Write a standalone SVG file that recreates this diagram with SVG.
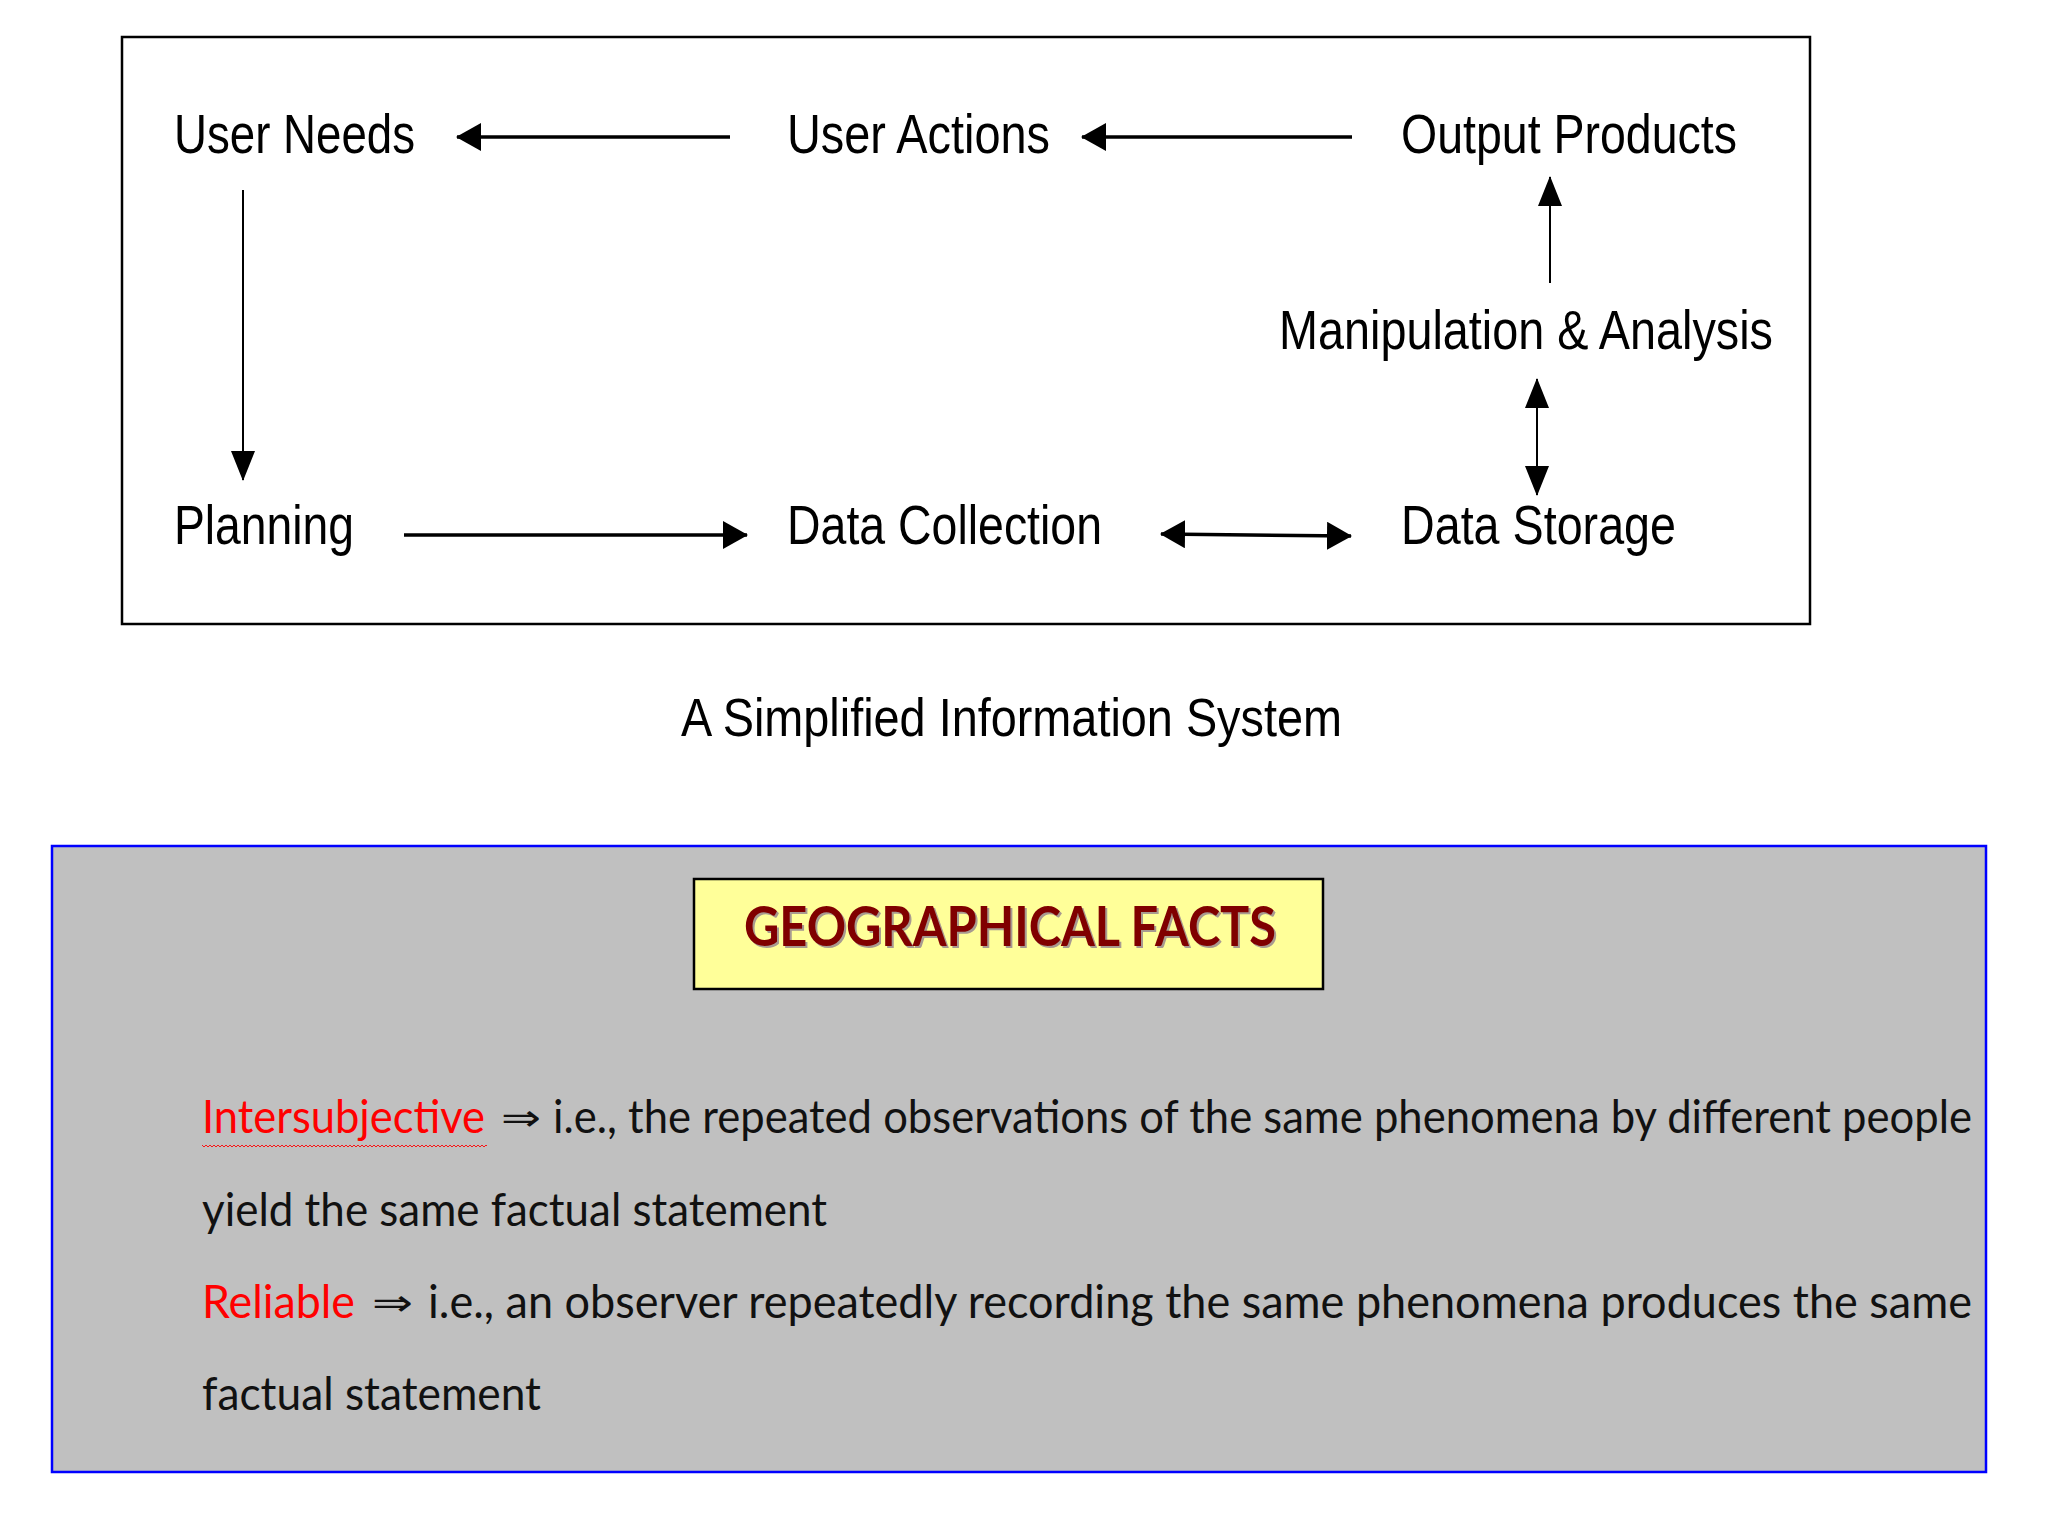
<svg xmlns="http://www.w3.org/2000/svg" width="2048" height="1536" viewBox="0 0 2048 1536">
<style>
.lbl{font-family:"Liberation Sans Narrow","Liberation Sans",Arial,sans-serif;font-size:56px;fill:#000}
.cap{font-family:"Liberation Sans Narrow","Liberation Sans",Arial,sans-serif;font-size:54px;fill:#000}
.body{font-family:Lato,"Open Sans","DejaVu Sans",sans-serif;font-size:46px;fill:#111}
.red{fill:#ff0000}
.sym{font-family:"DejaVu Sans",sans-serif;font-size:36px;fill:#111}
.title{font-family:Lato,"Liberation Sans",sans-serif;font-weight:bold;font-size:56px}
.thick{stroke:#000;stroke-width:3.5;fill:none}
.thin{stroke:#000;stroke-width:2;fill:none}
</style>
<defs>
<marker id="ah" viewBox="0 0 25 28" refX="24" refY="14" markerWidth="25" markerHeight="28" markerUnits="userSpaceOnUse" orient="auto-start-reverse">
<path d="M0,0 L25,14 L0,28 Z" fill="#000"/>
</marker>
<marker id="av" viewBox="0 0 30 24" refX="29" refY="12" markerWidth="30" markerHeight="24" markerUnits="userSpaceOnUse" orient="auto-start-reverse">
<path d="M0,0 L30,12 L0,24 Z" fill="#000"/>
</marker>
<pattern id="wavy" x="0" y="0" width="4" height="4" patternUnits="userSpaceOnUse">
<path d="M0,3 L2,1 L4,3" stroke="#ff0000" stroke-width="0.9" fill="none"/>
</pattern>
</defs>
<rect width="2048" height="1536" fill="#ffffff"/>

<!-- top diagram frame -->
<rect x="122" y="37" width="1688" height="587" fill="#ffffff" stroke="#000" stroke-width="2.5"/>

<g id="user-needs"><text class="lbl" x="174" y="153" textLength="241" lengthAdjust="spacingAndGlyphs">User Needs</text></g>
<g id="user-actions"><text class="lbl" x="787" y="153" textLength="263" lengthAdjust="spacingAndGlyphs">User Actions</text></g>
<g id="output-products"><text class="lbl" x="1401" y="153" textLength="336" lengthAdjust="spacingAndGlyphs">Output Products</text></g>
<g id="manipulation-analysis"><text class="lbl" x="1279" y="349" textLength="494" lengthAdjust="spacingAndGlyphs">Manipulation &amp; Analysis</text></g>
<g id="planning"><text class="lbl" x="174" y="544" textLength="180" lengthAdjust="spacingAndGlyphs">Planning</text></g>
<g id="data-collection"><text class="lbl" x="787" y="544" textLength="315" lengthAdjust="spacingAndGlyphs">Data Collection</text></g>
<g id="data-storage"><text class="lbl" x="1401" y="544" textLength="275" lengthAdjust="spacingAndGlyphs">Data Storage</text></g>

<g id="connectors">
<line class="thick" x1="730" y1="137" x2="457" y2="137" marker-end="url(#ah)"/>
<line class="thick" x1="1352" y1="137" x2="1082" y2="137" marker-end="url(#ah)"/>
<line class="thin" x1="243" y1="190" x2="243" y2="480" marker-end="url(#av)"/>
<line class="thick" x1="404" y1="535" x2="747" y2="535" marker-end="url(#ah)"/>
<line class="thick" x1="1161" y1="534" x2="1351" y2="536" marker-start="url(#ah)" marker-end="url(#ah)"/>
<line class="thin" x1="1537" y1="379" x2="1537" y2="495" marker-start="url(#av)" marker-end="url(#av)"/>
<line class="thin" x1="1550" y1="283" x2="1550" y2="177" marker-end="url(#av)"/>
</g>

<g id="caption"><text class="cap" x="681" y="736" textLength="661" lengthAdjust="spacingAndGlyphs">A Simplified Information System</text></g>

<!-- bottom panel -->
<rect x="52" y="846" width="1934" height="626" fill="#c0c0c0" stroke="#0000ff" stroke-width="2.5"/>

<g id="title-box">
<rect x="694" y="879" width="629" height="110" fill="#ffff99" stroke="#000" stroke-width="2.5"/>
<text class="title" x="746" y="948" fill="#a89a90" textLength="532" lengthAdjust="spacingAndGlyphs">GEOGRAPHICAL FACTS</text>
<text class="title" x="744" y="946" fill="#800000" textLength="532" lengthAdjust="spacingAndGlyphs">GEOGRAPHICAL FACTS</text>
</g>

<g id="facts">
<text class="body red" x="202" y="1133" textLength="283" lengthAdjust="spacingAndGlyphs">Intersubjective</text>
<rect x="202" y="1144" width="285" height="4" fill="url(#wavy)"/>
<text class="sym" x="501" y="1130" textLength="40" lengthAdjust="spacingAndGlyphs">⇒</text>
<text class="body" x="553" y="1133" textLength="1419" lengthAdjust="spacingAndGlyphs">i.e., the repeated observations of the same phenomena by different people</text>
<text class="body" x="202" y="1226" textLength="625" lengthAdjust="spacingAndGlyphs">yield the same factual statement</text>
<text class="body red" x="202" y="1318" textLength="153" lengthAdjust="spacingAndGlyphs">Reliable</text>
<text class="sym" x="372" y="1315" textLength="41" lengthAdjust="spacingAndGlyphs">⇒</text>
<text class="body" x="428" y="1318" textLength="1544" lengthAdjust="spacingAndGlyphs">i.e., an observer repeatedly recording the same phenomena produces the same</text>
<text class="body" x="202" y="1410" textLength="339" lengthAdjust="spacingAndGlyphs">factual statement</text>
</g>
</svg>
